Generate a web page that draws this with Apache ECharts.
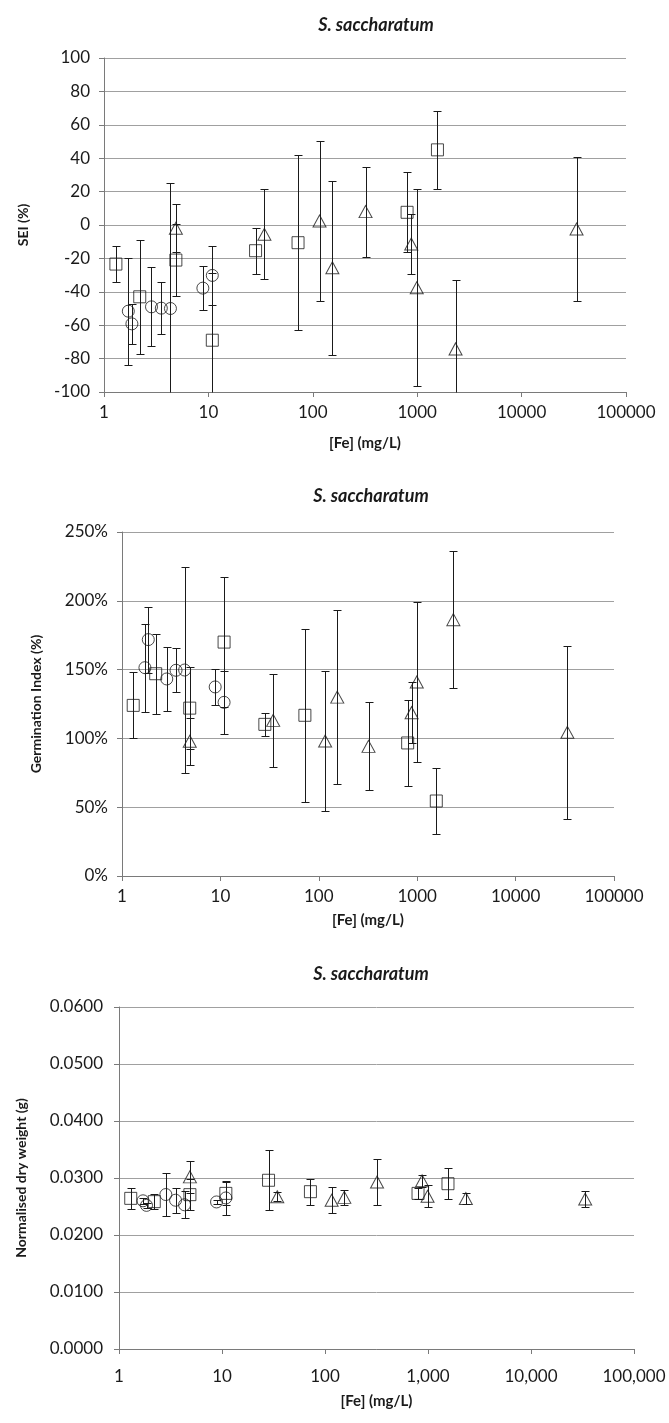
<!DOCTYPE html>
<html>
<head>
<meta charset="utf-8">
<script src="https://cdn.jsdelivr.net/npm/echarts@6/dist/echarts.min.js"></script>
<style>
html, body { margin: 0; padding: 0; background: #fff; }
#chart { width: 669px; height: 1423px; }
</style>
</head>
<body>
<div id="chart"></div>
<script>
// [Fe] (mg/L) of each marker group, shared by the three panels
const feSquare = [1.3, 2.2, 4.88, 10.9, 28.3, 72.2, 800, 1563]
const feCircle = [1.71, 1.85, 2.85, 3.54, 4.33, 8.85, 10.9]
const feTriangle = [4.88, 34.4, 116, 154, 320, 877, 990, 2330, 33600]

// SEI (%)
const seiSquare = [-23.4, -43, -21, -69, -15.4, -10.6, 7.6, 45]
const seiSquareErr = [10.7, 34, 21.4, 40, 13.7, 52.5, 24, 23.5]
const seiCircle = [-51.6, -59.2, -49, -49.8, -50, -37.8, -30.2]
const seiCircleErr = [32, 12, 23.7, 15.5, 75, 13.3, 17.5]
const seiTriangle = [-2, -5.6, 2.4, -25.6, 8, -11.4, -37.6, -74.2, -2.4]
const seiTriangleErr = [14.4, 27, 48, 52, 27, 18, 59, 41, 43]

// Germination index (%)
const giSquare = [124, 147, 122, 170, 110.2, 116.8, 96.7, 54.5]
const giSquareErr = [24, 29, 30, 47, 8.6, 63, 31, 24]
const giCircle = [151.4, 171.8, 143.2, 149.5, 149.7, 137.4, 126.2]
const giCircleErr = [32, 24, 23.5, 16, 75, 13, 23]
const giTriangle = [97.9, 113.1, 98.1, 130, 94.2, 118.7, 141, 186.3, 104.4]
const giTriangleErr = [17, 34, 51, 63, 32, 22, 58, 50, 63]

// Normalised dry weight (g)
const dwSquare = [0.02643, 0.02585, 0.02708, 0.0273, 0.0296, 0.0276, 0.0273, 0.029]
const dwSquareErr = [0.0019, 0.0013, 0.0027, 0.002, 0.0053, 0.0023, 0.001, 0.0027]
const dwCircle = [0.026, 0.0252, 0.0271, 0.0261, 0.0253, 0.0258, 0.0265]
const dwCircleErr = [0.0005, 0.0004, 0.0037, 0.0022, 0.0024, 0.0004, 0.003]
const dwTriangle = [0.0302, 0.0267, 0.0261, 0.0266, 0.0293, 0.0295, 0.0268, 0.0264, 0.0263]
const dwTriangleErr = [0.0028, 0.0008, 0.0023, 0.0013, 0.0041, 0.001, 0.0019, 0.001, 0.0014]

const titleText = 'S. saccharatum'
const xName = '[Fe] (mg/L)'
const yNames = ['SEI (%)', 'Germination Index (%)', 'Normalised dry weight (g)']

const FONT = 'Lato, "Open Sans", sans-serif'
const INK = '#1a1a1a'
const AXIS = '#7a7a7a'
const GRID = '#a0a0a0'

const chart = echarts.init(document.getElementById('chart'))

function pts (xs, ys, errs) {
  return xs.map((x, i) => [x, ys[i], errs[i]])
}

function markers (idx, symbol, data) {
  return {
    type: 'scatter',
    xAxisIndex: idx,
    yAxisIndex: idx,
    symbol: symbol,
    symbolSize: symbol === 'triangle' ? [13, 12] : 12,
    data: data,
    silent: true,
    z: 4,
    itemStyle: { color: 'rgba(0,0,0,0)', borderColor: INK, borderWidth: 1 }
  }
}

function errorBars (idx, data, yMin) {
  return {
    type: 'custom',
    xAxisIndex: idx,
    yAxisIndex: idx,
    data: data,
    silent: true,
    z: 3,
    renderItem (params, api) {
      const x = api.value(0)
      const y = api.value(1)
      const e = api.value(2)
      const low = Math.max(y - e, yMin)
      const top = api.coord([x, y + e])
      const bot = api.coord([x, low])
      const cx = Math.round(top[0]) + 0.5
      const ty = Math.round(top[1]) + 0.5
      const by = Math.round(bot[1]) + 0.5
      const style = { stroke: INK, lineWidth: 1 }
      const cap = 4
      const children = [
        { type: 'line', shape: { x1: cx, y1: ty, x2: cx, y2: by }, style: style },
        { type: 'line', shape: { x1: cx - cap, y1: ty, x2: cx + cap, y2: ty }, style: style }
      ]
      if (y - e >= yMin) {
        children.push({ type: 'line', shape: { x1: cx - cap, y1: by, x2: cx + cap, y2: by }, style: style })
      }
      return { type: 'group', children: children }
    }
  }
}

function xAxis (idx, nameGap, labelMargin, fmt) {
  return {
    gridIndex: idx,
    type: 'log',
    logBase: 10,
    min: 1,
    max: 100000,
    name: xName,
    nameLocation: 'middle',
    nameGap: nameGap,
    nameTextStyle: { fontFamily: FONT, fontWeight: 'bold', fontSize: 15, color: INK },
    axisLine: { show: true, onZero: false, lineStyle: { color: AXIS } },
    axisTick: { show: true, length: 5, lineStyle: { color: AXIS } },
    minorTick: { show: false },
    splitLine: { show: false },
    axisLabel: { fontFamily: FONT, fontSize: 17, color: INK, margin: labelMargin, formatter: fmt }
  }
}

function yAxis (idx, min, max, interval, nameGap, labelMargin, fmt) {
  return {
    gridIndex: idx,
    type: 'value',
    min: min,
    max: max,
    interval: interval,
    name: yNames[idx],
    nameLocation: 'middle',
    nameGap: nameGap,
    nameTextStyle: { fontFamily: FONT, fontWeight: 'bold', fontSize: 14, color: INK },
    axisLine: { show: true, lineStyle: { color: AXIS } },
    axisTick: { show: true, length: 5, lineStyle: { color: AXIS } },
    splitLine: { show: true, lineStyle: { color: GRID, width: 1 } },
    axisLabel: { fontFamily: FONT, fontSize: 17, color: INK, margin: labelMargin, formatter: fmt }
  }
}

const titleStyle = { fontFamily: FONT, fontSize: 18, fontWeight: 'bold', fontStyle: 'italic', color: INK }

chart.setOption({
  animation: false,
  title: [
    { text: titleText, left: 371, top: 11, textAlign: 'center', textStyle: titleStyle },
    { text: titleText, left: 366, top: 482, textAlign: 'center', textStyle: titleStyle },
    { text: titleText, left: 366, top: 960, textAlign: 'center', textStyle: titleStyle }
  ],
  grid: [
    { left: 104, top: 58, width: 522, height: 334 },
    { left: 122, top: 532, width: 492, height: 344 },
    { left: 119, top: 1007, width: 515, height: 342 }
  ],
  xAxis: [
    xAxis(0, 44, 12, v => String(v)),
    xAxis(1, 37, 12, v => String(v)),
    xAxis(2, 45, 19, v => v.toLocaleString('en-US'))
  ],
  yAxis: [
    yAxis(0, -100, 100, 20, 74, 14, v => String(v)),
    yAxis(1, 0, 250, 50, 79, 14, v => v + '%'),
    yAxis(2, 0, 0.06, 0.01, 91, 16, v => v.toFixed(4))
  ],
  series: [
    errorBars(0, pts(feSquare, seiSquare, seiSquareErr), -100),
    errorBars(0, pts(feCircle, seiCircle, seiCircleErr), -100),
    errorBars(0, pts(feTriangle, seiTriangle, seiTriangleErr), -100),
    markers(0, 'rect', pts(feSquare, seiSquare, seiSquareErr)),
    markers(0, 'circle', pts(feCircle, seiCircle, seiCircleErr)),
    markers(0, 'triangle', pts(feTriangle, seiTriangle, seiTriangleErr)),

    errorBars(1, pts(feSquare, giSquare, giSquareErr), 0),
    errorBars(1, pts(feCircle, giCircle, giCircleErr), 0),
    errorBars(1, pts(feTriangle, giTriangle, giTriangleErr), 0),
    markers(1, 'rect', pts(feSquare, giSquare, giSquareErr)),
    markers(1, 'circle', pts(feCircle, giCircle, giCircleErr)),
    markers(1, 'triangle', pts(feTriangle, giTriangle, giTriangleErr)),

    errorBars(2, pts(feSquare, dwSquare, dwSquareErr), 0),
    errorBars(2, pts(feCircle, dwCircle, dwCircleErr), 0),
    errorBars(2, pts(feTriangle, dwTriangle, dwTriangleErr), 0),
    markers(2, 'rect', pts(feSquare, dwSquare, dwSquareErr)),
    markers(2, 'circle', pts(feCircle, dwCircle, dwCircleErr)),
    markers(2, 'triangle', pts(feTriangle, dwTriangle, dwTriangleErr))
  ]
})
</script>
</body>
</html>
